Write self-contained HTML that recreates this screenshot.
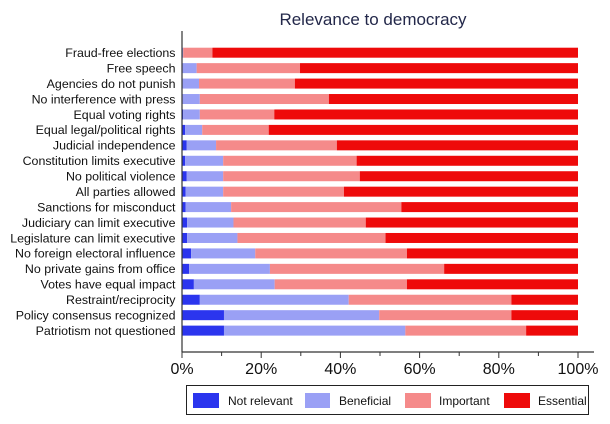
<!DOCTYPE html>
<html><head><meta charset="utf-8"><style>
body{margin:0;background:#fff;}
svg{display:block;font-family:"Liberation Sans",Arial,sans-serif;}
</style></head><body>
<svg width="610" height="424" viewBox="0 0 610 424" xmlns="http://www.w3.org/2000/svg">
<text x="373" y="25" text-anchor="middle" font-size="17" fill="#23284a">Relevance to democracy</text>
<g id="bars"></g>
<line x1="182" y1="31" x2="182" y2="352" stroke="#333" stroke-width="1.2"/>
<line x1="182" y1="352" x2="594" y2="352" stroke="#333" stroke-width="1.2"/>
<g stroke="#333" stroke-width="1">
<line x1="182" y1="352" x2="182" y2="358"/><line x1="221.6" y1="352" x2="221.6" y2="356"/>
<line x1="261.2" y1="352" x2="261.2" y2="358"/><line x1="300.8" y1="352" x2="300.8" y2="356"/>
<line x1="340.4" y1="352" x2="340.4" y2="358"/><line x1="380" y1="352" x2="380" y2="356"/>
<line x1="419.6" y1="352" x2="419.6" y2="358"/><line x1="459.2" y1="352" x2="459.2" y2="356"/>
<line x1="498.8" y1="352" x2="498.8" y2="358"/><line x1="538.4" y1="352" x2="538.4" y2="356"/>
<line x1="578" y1="352" x2="578" y2="358"/>
</g>
<g font-size="16" fill="#111" text-anchor="middle">
<text x="182" y="374">0%</text><text x="261.2" y="374">20%</text><text x="340.4" y="374">40%</text>
<text x="419.6" y="374">60%</text><text x="498.8" y="374">80%</text><text x="578" y="374">100%</text>
</g>
<rect x="186.5" y="385.5" width="402" height="29" fill="#fff" stroke="#222" stroke-width="1"/>
<rect x="193" y="393" width="26" height="15" fill="#2b35ee"/>
<text x="228" y="405" font-size="12" fill="#111">Not relevant</text>
<rect x="305" y="393" width="25" height="15" fill="#9aa0f5"/>
<text x="339" y="405" font-size="12" fill="#111">Beneficial</text>
<rect x="405" y="393" width="26" height="15" fill="#f58a8a"/>
<text x="439" y="405" font-size="12" fill="#111">Important</text>
<rect x="504" y="393" width="26" height="15" fill="#ee0a0a"/>
<text x="538" y="405" font-size="12" fill="#111">Essential</text>
<g id="labels" font-size="12.4" fill="#111" text-anchor="end"></g>
</svg>
<script>
var d=[
["Fraud-free elections",0,0.3,7.7],
["Free speech",0,3.7,29.8],
["Agencies do not punish",0,4.3,28.5],
["No interference with press",0,4.5,37.1],
["Equal voting rights",0.3,4.5,23.3],
["Equal legal/political rights",0.8,5.1,21.9],
["Judicial independence",1.2,8.6,39.1],
["Constitution limits executive",0.8,10.4,44.1],
["No political violence",1.2,10.4,44.9],
["All parties allowed",0.9,10.4,40.9],
["Sanctions for misconduct",0.9,12.4,55.4],
["Judiciary can limit executive",1.3,13,46.4],
["Legislature can limit executive",1.3,14,51.4],
["No foreign electoral influence",2.3,18.5,56.8],
["No private gains from office",1.8,22.2,66.2],
["Votes have equal impact",3,23.4,56.8],
["Restraint/reciprocity",4.5,42.1,83.2],
["Policy consensus recognized",10.6,49.8,83.2],
["Patriotism not questioned",10.6,56.4,86.9]];
var cols=["#2b35ee","#9aa0f5","#f58a8a","#ee0a0a"];
var ns="http://www.w3.org/2000/svg",b=document.getElementById("bars"),l=document.getElementById("labels");
function X(p){return 182+p*3.96;}
d.forEach(function(r,i){
 var cy=52.7+i*15.44, e=[0,r[1],r[2],r[3],100];
 for(var k=0;k<4;k++){var rc=document.createElementNS(ns,"rect");
  rc.setAttribute("x",X(e[k]));rc.setAttribute("width",Math.max(0,X(e[k+1])-X(e[k])));
  rc.setAttribute("y",cy-5);rc.setAttribute("height",10);rc.setAttribute("fill",cols[k]);b.appendChild(rc);}
 var t=document.createElementNS(ns,"text");t.setAttribute("x",175.5);t.setAttribute("y",cy+4.3);t.textContent=r[0];l.appendChild(t);
});
</script>
</body></html>
